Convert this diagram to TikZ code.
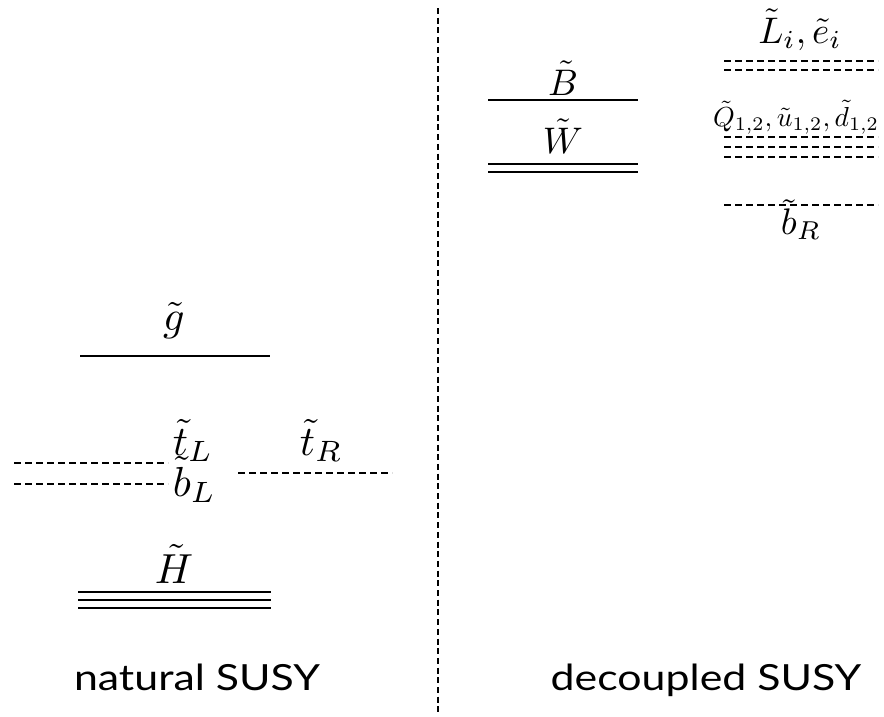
\documentclass[tikz,border=0pt]{standalone}
\usepackage{fontspec}
\setsansfont{Lato}
\begin{document}
\begin{tikzpicture}[x=1pt,y=-1pt,
  lvl/.style={line width=2.5pt},
  dlvl/.style={line width=2.5pt,dash pattern=on 7pt off 4pt},
  sep/.style={line width=2.6pt,dash pattern=on 6pt off 3.7pt},
  llab/.style={scale=4.2,inner sep=0pt},
  lab/.style={scale=3.7,inner sep=0pt},
  slab/.style={scale=2.75,inner sep=0pt},
  captext/.style={font=\sffamily\fontsize{36}{40}\selectfont,xscale=1.19,inner sep=0pt,anchor=base}]
\useasboundingbox (0,0) rectangle (884,716);
% separator
\coordinate (s1) at (438,8); \coordinate (s2) at (438,716);
\draw[sep] (s1) -- (s2);
% natural SUSY
\coordinate (g1) at (80,356); \coordinate (g2) at (270,356);
\draw[lvl] (g1) -- (g2);
\node[llab,anchor=base] (gl) at (174,330) {$\tilde g$};
\coordinate (tl1) at (14,463); \coordinate (tl2) at (168,463);
\coordinate (bl1) at (14,484); \coordinate (bl2) at (168,484);
\draw[dlvl] (tl1) -- (tl2);
\draw[dlvl] (bl1) -- (bl2);
\node[llab,anchor=base west] (tll) at (172,455) {$\tilde t_L$};
\node[llab,anchor=base west] (bll) at (172,496) {$\tilde b_L$};
\coordinate (tr1) at (238,473); \coordinate (tr2) at (392,473);
\draw[dlvl] (tr1) -- (tr2);
\node[llab,anchor=base west] (trl) at (299,455) {$\tilde t_R$};
\foreach \y in {592,600,608}{
  \draw[lvl] (78,\y) -- (271,\y);}
\node[llab,anchor=base] (hl) at (174,583) {$\tilde H$};
\node[captext] (nat) at (197,690) {natural SUSY};
% decoupled SUSY
\coordinate (b1) at (488,100); \coordinate (b2) at (638,100);
\draw[lvl] (b1) -- (b2);
\node[lab,anchor=base] (bil) at (563,95) {$\tilde B$};
\foreach \y in {164,172}{
  \draw[lvl] (488,\y) -- (638,\y);}
\node[lab,anchor=base] (wl) at (563,153) {$\tilde W$};
\foreach \y in {61,70}{
  \draw[dlvl] (724,\y) -- (878,\y);}
\node[lab,anchor=base] (ll) at (800,43) {$\tilde L_i,\tilde e_i$};
\foreach \y in {137,147,157}{
  \draw[dlvl] (724,\y) -- (878,\y);}
\node[slab,anchor=base] (ql) at (796,126) {$\tilde Q_{1,2},\tilde u_{1,2},\tilde d_{1,2}$};
\coordinate (br1) at (724,205); \coordinate (br2) at (878,205);
\draw[dlvl] (br1) -- (br2);
\node[lab,anchor=base] (brl) at (801,234) {$\tilde b_R$};
\node[captext] (dec) at (706,690) {decoupled SUSY};
\end{tikzpicture}
\end{document}
